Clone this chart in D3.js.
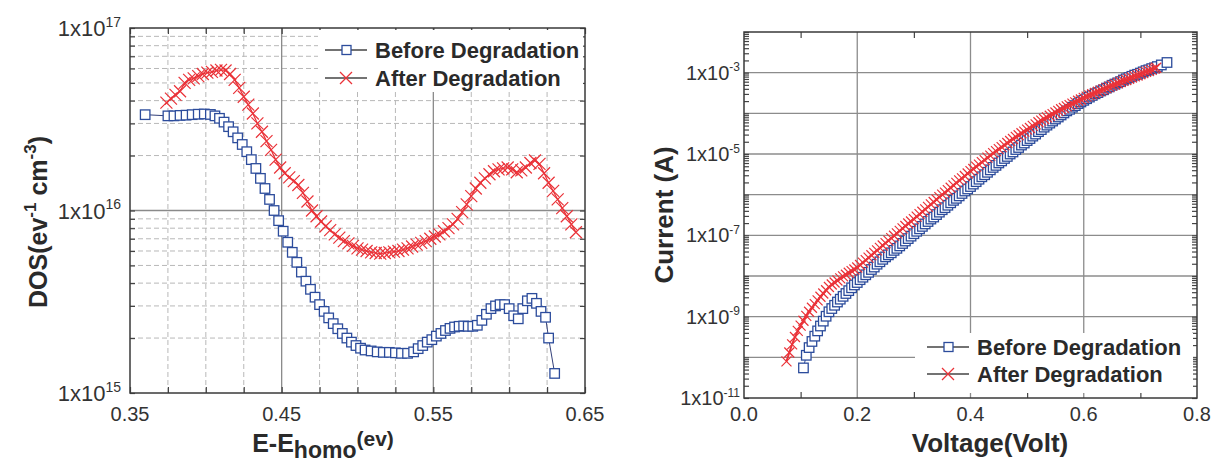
<!DOCTYPE html>
<html>
<head>
<meta charset="utf-8">
<script src="https://cdn.jsdelivr.net/npm/d3@7"></script>
<style>
  body { margin: 0; background: #fff; }
  svg { display: block; font-family: Arial, "Liberation Sans", sans-serif; }
</style>
</head>
<body>
<svg id="chart" width="1217" height="466"></svg>
<script>
// ---- left panel: density of states (values in units of 1e16 ev^-1 cm^-3)
const energyBefore = [0.360, 0.375, 0.379, 0.383, 0.387, 0.391, 0.395, 0.399, 0.403, 0.406, 0.409, 0.412, 0.415, 0.418, 0.421, 0.424, 0.427, 0.430, 0.433, 0.436, 0.439, 0.442, 0.445, 0.448, 0.451, 0.454, 0.457, 0.460, 0.463, 0.466, 0.469, 0.472, 0.475, 0.478, 0.481, 0.484, 0.487, 0.490, 0.493, 0.496, 0.499, 0.502, 0.505, 0.509, 0.513, 0.517, 0.521, 0.525, 0.529, 0.533, 0.537, 0.540, 0.543, 0.546, 0.549, 0.552, 0.555, 0.558, 0.561, 0.564, 0.567, 0.570, 0.573, 0.576, 0.579, 0.582, 0.585, 0.588, 0.591, 0.594, 0.597, 0.600, 0.603, 0.606, 0.609, 0.612, 0.615, 0.618, 0.621, 0.624, 0.626, 0.630];
const dosBefore = [3.35, 3.30, 3.30, 3.32, 3.33, 3.35, 3.37, 3.38, 3.36, 3.30, 3.20, 3.05, 2.88, 2.70, 2.50, 2.30, 2.10, 1.90, 1.70, 1.50, 1.32, 1.15, 1.00, 0.88, 0.77, 0.67, 0.59, 0.52, 0.46, 0.41, 0.37, 0.335, 0.305, 0.28, 0.258, 0.24, 0.225, 0.212, 0.200, 0.190, 0.182, 0.176, 0.172, 0.170, 0.168, 0.167, 0.167, 0.166, 0.165, 0.165, 0.168, 0.175, 0.182, 0.190, 0.196, 0.205, 0.212, 0.220, 0.226, 0.230, 0.232, 0.233, 0.232, 0.232, 0.235, 0.250, 0.270, 0.290, 0.300, 0.305, 0.305, 0.290, 0.265, 0.255, 0.290, 0.320, 0.330, 0.310, 0.280, 0.260, 0.200, 0.128];

const energyAfter = [0.374, 0.377, 0.380, 0.383, 0.386, 0.389, 0.392, 0.395, 0.398, 0.401, 0.404, 0.407, 0.410, 0.413, 0.416, 0.419, 0.422, 0.425, 0.428, 0.431, 0.434, 0.437, 0.440, 0.443, 0.446, 0.449, 0.452, 0.455, 0.458, 0.461, 0.464, 0.467, 0.470, 0.473, 0.476, 0.479, 0.482, 0.485, 0.488, 0.491, 0.494, 0.497, 0.500, 0.503, 0.506, 0.509, 0.512, 0.515, 0.518, 0.521, 0.524, 0.527, 0.530, 0.533, 0.536, 0.539, 0.542, 0.545, 0.548, 0.551, 0.554, 0.557, 0.560, 0.563, 0.566, 0.569, 0.572, 0.575, 0.578, 0.581, 0.584, 0.587, 0.590, 0.593, 0.596, 0.599, 0.602, 0.605, 0.608, 0.611, 0.614, 0.617, 0.620, 0.623, 0.626, 0.629, 0.632, 0.635, 0.638, 0.641, 0.644];
const dosAfter = [3.9, 4.1, 4.3, 4.5, 5.0, 5.2, 5.3, 5.45, 5.6, 5.7, 5.75, 5.85, 5.9, 5.85, 5.6, 5.2, 4.7, 4.2, 3.8, 3.4, 3.0, 2.7, 2.4, 2.15, 1.9, 1.72, 1.6, 1.52, 1.45, 1.38, 1.25, 1.12, 1.0, 0.93, 0.87, 0.82, 0.78, 0.74, 0.71, 0.68, 0.66, 0.64, 0.62, 0.61, 0.60, 0.59, 0.585, 0.58, 0.585, 0.59, 0.595, 0.60, 0.61, 0.62, 0.635, 0.65, 0.665, 0.68, 0.70, 0.72, 0.74, 0.77, 0.80, 0.84, 0.90, 0.98, 1.08, 1.20, 1.32, 1.42, 1.50, 1.58, 1.64, 1.68, 1.70, 1.72, 1.68, 1.62, 1.66, 1.72, 1.82, 1.88, 1.80, 1.60, 1.42, 1.28, 1.15, 1.03, 0.93, 0.84, 0.76];

const energyTicks = [0.35, 0.45, 0.55, 0.65];
const energyMinor = [0.35, 0.375, 0.4, 0.425, 0.45, 0.475, 0.5, 0.525, 0.55, 0.575, 0.6, 0.625, 0.65];
const dosTicks = [15, 16, 17];   // exponents of 10

// ---- right panel: I-V curves (log10 of current in A)
const voltBefore = [0.105, 0.110, 0.115, 0.120, 0.125, 0.130, 0.135, 0.140, 0.145, 0.150, 0.155, 0.160, 0.165, 0.170, 0.175, 0.180, 0.185, 0.190, 0.195, 0.200, 0.205, 0.210, 0.215, 0.220, 0.225, 0.230, 0.235, 0.240, 0.245, 0.250, 0.255, 0.260, 0.265, 0.270, 0.275, 0.280, 0.285, 0.290, 0.295, 0.300, 0.305, 0.310, 0.315, 0.320, 0.325, 0.330, 0.335, 0.340, 0.345, 0.350, 0.355, 0.360, 0.365, 0.370, 0.375, 0.380, 0.385, 0.390, 0.395, 0.400, 0.405, 0.410, 0.415, 0.420, 0.425, 0.430, 0.435, 0.440, 0.445, 0.450, 0.455, 0.460, 0.465, 0.470, 0.475, 0.480, 0.485, 0.490, 0.495, 0.500, 0.505, 0.510, 0.515, 0.520, 0.525, 0.530, 0.535, 0.540, 0.545, 0.550, 0.555, 0.560, 0.565, 0.570, 0.575, 0.580, 0.585, 0.590, 0.595, 0.600, 0.605, 0.610, 0.615, 0.620, 0.625, 0.630, 0.635, 0.640, 0.645, 0.650, 0.655, 0.660, 0.665, 0.670, 0.675, 0.680, 0.685, 0.690, 0.695, 0.700, 0.705, 0.710, 0.715, 0.720, 0.725, 0.730, 0.737, 0.747];
const logCurrentBefore = [-10.26, -9.95, -9.76, -9.61, -9.48, -9.35, -9.23, -9.11, -8.99, -8.88, -8.80, -8.72, -8.64, -8.57, -8.50, -8.43, -8.36, -8.29, -8.22, -8.16, -8.09, -8.03, -7.97, -7.91, -7.84, -7.78, -7.71, -7.65, -7.59, -7.53, -7.48, -7.43, -7.37, -7.32, -7.26, -7.20, -7.14, -7.08, -7.02, -6.96, -6.90, -6.84, -6.78, -6.72, -6.66, -6.60, -6.55, -6.49, -6.43, -6.37, -6.32, -6.26, -6.20, -6.14, -6.09, -6.03, -5.97, -5.91, -5.86, -5.80, -5.74, -5.68, -5.62, -5.56, -5.51, -5.45, -5.39, -5.33, -5.28, -5.22, -5.17, -5.11, -5.06, -5.00, -4.95, -4.89, -4.84, -4.78, -4.73, -4.67, -4.62, -4.56, -4.51, -4.45, -4.40, -4.34, -4.29, -4.24, -4.19, -4.14, -4.09, -4.04, -3.99, -3.94, -3.90, -3.85, -3.81, -3.76, -3.72, -3.68, -3.64, -3.60, -3.56, -3.52, -3.49, -3.45, -3.42, -3.38, -3.35, -3.31, -3.28, -3.25, -3.22, -3.18, -3.15, -3.12, -3.09, -3.06, -3.04, -3.01, -2.98, -2.95, -2.93, -2.90, -2.88, -2.85, -2.81, -2.75];

const voltAfter = [0.075, 0.080, 0.085, 0.090, 0.095, 0.100, 0.105, 0.110, 0.115, 0.120, 0.125, 0.130, 0.135, 0.140, 0.145, 0.150, 0.155, 0.160, 0.165, 0.170, 0.175, 0.180, 0.185, 0.190, 0.195, 0.200, 0.205, 0.210, 0.215, 0.220, 0.225, 0.230, 0.235, 0.240, 0.245, 0.250, 0.255, 0.260, 0.265, 0.270, 0.275, 0.280, 0.285, 0.290, 0.295, 0.300, 0.305, 0.310, 0.315, 0.320, 0.325, 0.330, 0.335, 0.340, 0.345, 0.350, 0.355, 0.360, 0.365, 0.370, 0.375, 0.380, 0.385, 0.390, 0.395, 0.400, 0.405, 0.410, 0.415, 0.420, 0.425, 0.430, 0.435, 0.440, 0.445, 0.450, 0.455, 0.460, 0.465, 0.470, 0.475, 0.480, 0.485, 0.490, 0.495, 0.500, 0.505, 0.510, 0.515, 0.520, 0.525, 0.530, 0.535, 0.540, 0.545, 0.550, 0.555, 0.560, 0.565, 0.570, 0.575, 0.580, 0.585, 0.590, 0.595, 0.600, 0.605, 0.610, 0.615, 0.620, 0.625, 0.630, 0.635, 0.640, 0.645, 0.650, 0.655, 0.660, 0.665, 0.670, 0.675, 0.680, 0.685, 0.690, 0.695, 0.700, 0.705, 0.710, 0.715, 0.720, 0.725, 0.728];
const logCurrentAfter = [-10.10, -9.88, -9.68, -9.50, -9.35, -9.22, -9.10, -8.98, -8.88, -8.78, -8.69, -8.60, -8.51, -8.43, -8.35, -8.27, -8.21, -8.16, -8.11, -8.06, -8.01, -7.97, -7.92, -7.88, -7.84, -7.79, -7.73, -7.67, -7.61, -7.55, -7.49, -7.43, -7.37, -7.31, -7.25, -7.19, -7.13, -7.07, -7.01, -6.95, -6.89, -6.83, -6.77, -6.71, -6.66, -6.60, -6.54, -6.48, -6.42, -6.36, -6.30, -6.24, -6.18, -6.12, -6.06, -6.00, -5.95, -5.89, -5.83, -5.77, -5.71, -5.65, -5.60, -5.54, -5.48, -5.42, -5.37, -5.31, -5.26, -5.20, -5.15, -5.09, -5.04, -4.98, -4.93, -4.88, -4.83, -4.78, -4.73, -4.68, -4.63, -4.58, -4.54, -4.49, -4.45, -4.40, -4.36, -4.31, -4.27, -4.22, -4.18, -4.14, -4.10, -4.06, -4.02, -3.98, -3.94, -3.90, -3.87, -3.83, -3.80, -3.76, -3.73, -3.69, -3.66, -3.62, -3.59, -3.56, -3.53, -3.50, -3.47, -3.44, -3.41, -3.38, -3.35, -3.32, -3.29, -3.26, -3.23, -3.20, -3.18, -3.15, -3.12, -3.09, -3.07, -3.04, -3.01, -2.98, -2.96, -2.93, -2.90, -2.88];

const voltTicks = [0, 0.2, 0.4, 0.6, 0.8];
const voltMinor = [0.1, 0.3, 0.5, 0.7];
const currentTicks = [-11, -9, -7, -5, -3];   // labelled exponents
const currentGrid = [-10, -9, -8, -7, -6, -5, -4, -3];

const seriesNames = ['Before Degradation', 'After Degradation'];

const BLUE = '#2c4c9c';
const RED = '#ea3238';
const INK = '#2a2a2a';

const svg = d3.select('#chart');

function sciLabel(sel, exp, big, small) {
  sel.attr('font-size', big);
  sel.append('tspan').attr('font-size', big).text('1x10');
  sel.append('tspan').attr('font-size', small).attr('dy', -big * 0.42).text(exp);
}

function drawSquares(g, data, x, y, size) {
  g.selectAll(null).data(data).join('rect')
    .attr('x', d => x(d[0]) - size / 2)
    .attr('y', d => y(d[1]) - size / 2)
    .attr('width', size).attr('height', size)
    .attr('fill', '#fff').attr('stroke', BLUE).attr('stroke-width', 1.3);
}

function drawCrosses(g, data, x, y, size) {
  const h = size / 2;
  g.selectAll(null).data(data).join('path')
    .attr('d', d => {
      const cx = x(d[0]), cy = y(d[1]);
      return `M${cx - h},${cy - h}L${cx + h},${cy + h}M${cx - h},${cy + h}L${cx + h},${cy - h}`;
    })
    .attr('fill', 'none').attr('stroke', RED).attr('stroke-width', 1.2);
}

function legend(g, x0, y0, rowH) {
  seriesNames.forEach((name, i) => {
    const cy = y0 + i * rowH;
    g.append('line').attr('x1', x0).attr('x2', x0 + 42).attr('y1', cy).attr('y2', cy)
      .attr('stroke', '#444').attr('stroke-width', 1.3);
    if (i === 0) {
      g.append('rect').attr('x', x0 + 17).attr('y', cy - 4.5).attr('width', 9).attr('height', 9)
        .attr('fill', '#fff').attr('stroke', BLUE).attr('stroke-width', 1.3);
    } else {
      g.append('path').attr('d', `M${x0 + 15},${cy - 6}L${x0 + 27},${cy + 6}M${x0 + 15},${cy + 6}L${x0 + 27},${cy - 6}`)
        .attr('fill', 'none').attr('stroke', RED).attr('stroke-width', 1.3);
    }
    g.append('text').attr('x', x0 + 50).attr('y', cy + 8)
      .attr('font-size', 22).attr('font-weight', 'bold').attr('fill', INK)
      .text(name);
  });
}

function styleAxis(g) {
  g.select('.domain').remove();
  g.selectAll('line').attr('stroke', '#444').attr('stroke-width', 1.2);
  g.selectAll('text').remove();
}

// ================= LEFT PANEL =================
const xE = d3.scaleLinear().domain([0.35, 0.65]).range([130, 585]);
const yD = d3.scaleLog().domain([1e15, 1e17]).range([393, 28]);
const L = svg.append('g');

// grid
const isDecade = v => Math.abs(Math.log10(v) - Math.round(Math.log10(v))) < 1e-9;
const dosGrid = yD.ticks().filter(v => v > 1e15 && v < 1e17);
L.selectAll(null).data(dosGrid).join('line')
  .attr('x1', 130).attr('x2', 585)
  .attr('y1', d => yD(d)).attr('y2', d => yD(d))
  .attr('stroke', d => isDecade(d) ? '#8a8a8a' : '#b8b8b8')
  .attr('stroke-width', d => isDecade(d) ? 1.3 : 1)
  .attr('stroke-dasharray', d => isDecade(d) ? null : '5,3');
L.selectAll(null).data(energyMinor.slice(1, -1)).join('line')
  .attr('x1', d => xE(d)).attr('x2', d => xE(d))
  .attr('y1', 28).attr('y2', 393)
  .attr('stroke', d => energyTicks.includes(d) ? '#8a8a8a' : '#b8b8b8')
  .attr('stroke-width', d => energyTicks.includes(d) ? 1.3 : 1)
  .attr('stroke-dasharray', d => energyTicks.includes(d) ? null : '5,3');

L.append('g').attr('transform', 'translate(0,393)')
  .call(d3.axisBottom(xE).tickValues(energyMinor).tickSize(-6)).call(styleAxis);
L.append('g').attr('transform', 'translate(0,28)')
  .call(d3.axisTop(xE).tickValues(energyMinor).tickSize(-6)).call(styleAxis);
L.append('g').attr('transform', 'translate(130,0)')
  .call(d3.axisLeft(yD).tickValues(yD.ticks()).tickSize(-5)).call(styleAxis);
L.append('g').attr('transform', 'translate(585,0)')
  .call(d3.axisRight(yD).tickValues(yD.ticks()).tickSize(-5)).call(styleAxis);

// legend background
L.append('rect').attr('x', 318).attr('y', 30).attr('width', 265).attr('height', 62).attr('fill', '#fff');

// data
const beforeL = energyBefore.map((e, i) => [e, dosBefore[i] * 1e16]);
const afterL = energyAfter.map((e, i) => [e, dosAfter[i] * 1e16]);
const lineL = d3.line().x(d => xE(d[0])).y(d => yD(d[1]));
L.append('path').attr('d', lineL(afterL)).attr('fill', 'none').attr('stroke', RED).attr('stroke-width', 1.2);
drawCrosses(L.append('g'), afterL, xE, yD, 12);
L.append('path').attr('d', lineL(beforeL)).attr('fill', 'none').attr('stroke', '#33407a').attr('stroke-width', 1);
drawSquares(L.append('g'), beforeL, xE, yD, 9.5);

// frame
L.append('rect').attr('x', 130).attr('y', 28).attr('width', 455).attr('height', 365)
  .attr('fill', 'none').attr('stroke', '#3a3a3a').attr('stroke-width', 1.5);

legend(L, 325, 50, 28);

// tick labels
dosTicks.forEach(e => {
  const t = L.append('text').attr('x', 121).attr('y', yD(Math.pow(10, e)) + 8)
    .attr('text-anchor', 'end').attr('fill', '#333');
  sciLabel(t, e, 22, 14);
});
L.selectAll(null).data(energyTicks).join('text')
  .attr('x', d => xE(d)).attr('y', 421).attr('text-anchor', 'middle')
  .attr('font-size', 20).attr('fill', '#333').text(d => d.toFixed(2));

// axis titles
const xt = L.append('text').attr('x', 323).attr('y', 452).attr('text-anchor', 'middle')
  .attr('font-weight', 'bold').attr('fill', INK).attr('font-size', 25);
xt.append('tspan').attr('font-size', 25).text('E-E');
xt.append('tspan').attr('font-size', 23).attr('dy', 6).text('homo');
xt.append('tspan').attr('font-size', 21).attr('dy', -12).text('(ev)');

const yt = L.append('text').attr('transform', 'translate(47,222) rotate(-90)')
  .attr('text-anchor', 'middle').attr('font-weight', 'bold').attr('fill', INK).attr('font-size', 25);
yt.append('tspan').text('DOS(ev');
yt.append('tspan').attr('font-size', 17).attr('dy', -11).text('-1');
yt.append('tspan').attr('dy', 11).text(' cm');
yt.append('tspan').attr('font-size', 17).attr('dy', -11).text('-3');
yt.append('tspan').attr('dy', 11).text(')');

// ================= RIGHT PANEL =================
const xV = d3.scaleLinear().domain([0, 0.8]).range([744, 1197]);
const yI = d3.scaleLog().domain([1e-11, 1e-2]).range([398, 32]);
const R = svg.append('g');

R.selectAll(null).data(currentGrid).join('line')
  .attr('x1', 744).attr('x2', 1197)
  .attr('y1', d => yI(Math.pow(10, d))).attr('y2', d => yI(Math.pow(10, d)))
  .attr('stroke', '#8c8c8c').attr('stroke-width', 1.3);
R.selectAll(null).data(voltTicks.slice(1, -1)).join('line')
  .attr('x1', d => xV(d)).attr('x2', d => xV(d)).attr('y1', 32).attr('y2', 398)
  .attr('stroke', '#8c8c8c').attr('stroke-width', 1.3);

const iTicks = yI.ticks();
R.append('g').attr('transform', 'translate(0,398)')
  .call(d3.axisBottom(xV).tickValues(voltMinor).tickSize(-6)).call(styleAxis);
R.append('g').attr('transform', 'translate(0,32)')
  .call(d3.axisTop(xV).tickValues(voltMinor).tickSize(-6)).call(styleAxis);
R.append('g').attr('transform', 'translate(744,0)')
  .call(d3.axisLeft(yI).tickValues(iTicks).tickSize(-5)).call(styleAxis);
R.append('g').attr('transform', 'translate(1197,0)')
  .call(d3.axisRight(yI).tickValues(iTicks).tickSize(-5)).call(styleAxis);

// legend background
R.append('rect').attr('x', 915).attr('y', 333).attr('width', 278).attr('height', 60).attr('fill', '#fff');

const beforeR = voltBefore.map((v, i) => [v, Math.pow(10, logCurrentBefore[i])]);
const afterR = voltAfter.map((v, i) => [v, Math.pow(10, logCurrentAfter[i])]);
const lineR = d3.line().x(d => xV(d[0])).y(d => yI(d[1]));
R.append('path').attr('d', lineR(beforeR)).attr('fill', 'none').attr('stroke', BLUE).attr('stroke-width', 1);
drawSquares(R.append('g'), beforeR, xV, yI, 9.5);
drawCrosses(R.append('g'), afterR, xV, yI, 10);
R.append('path').attr('d', lineR(afterR)).attr('fill', 'none').attr('stroke', RED).attr('stroke-width', 2);

R.append('rect').attr('x', 744).attr('y', 32).attr('width', 453).attr('height', 366)
  .attr('fill', 'none').attr('stroke', '#3a3a3a').attr('stroke-width', 1.5);

legend(R, 927, 347, 27);

currentTicks.forEach(e => {
  const t = R.append('text').attr('x', 740).attr('y', yI(Math.pow(10, e)) + 7)
    .attr('text-anchor', 'end').attr('fill', '#333');
  sciLabel(t, e, 20, 12);
});
R.selectAll(null).data(voltTicks).join('text')
  .attr('x', d => xV(d)).attr('y', 421).attr('text-anchor', 'middle')
  .attr('font-size', 20).attr('fill', '#333').text(d => d.toFixed(1));

R.append('text').attr('x', 990).attr('y', 452).attr('text-anchor', 'middle')
  .attr('font-weight', 'bold').attr('font-size', 26).attr('fill', INK).text('Voltage(Volt)');
R.append('text').attr('transform', 'translate(673,215) rotate(-90)')
  .attr('text-anchor', 'middle').attr('font-weight', 'bold').attr('font-size', 26)
  .attr('fill', INK).text('Current (A)');
</script>
</body>
</html>
